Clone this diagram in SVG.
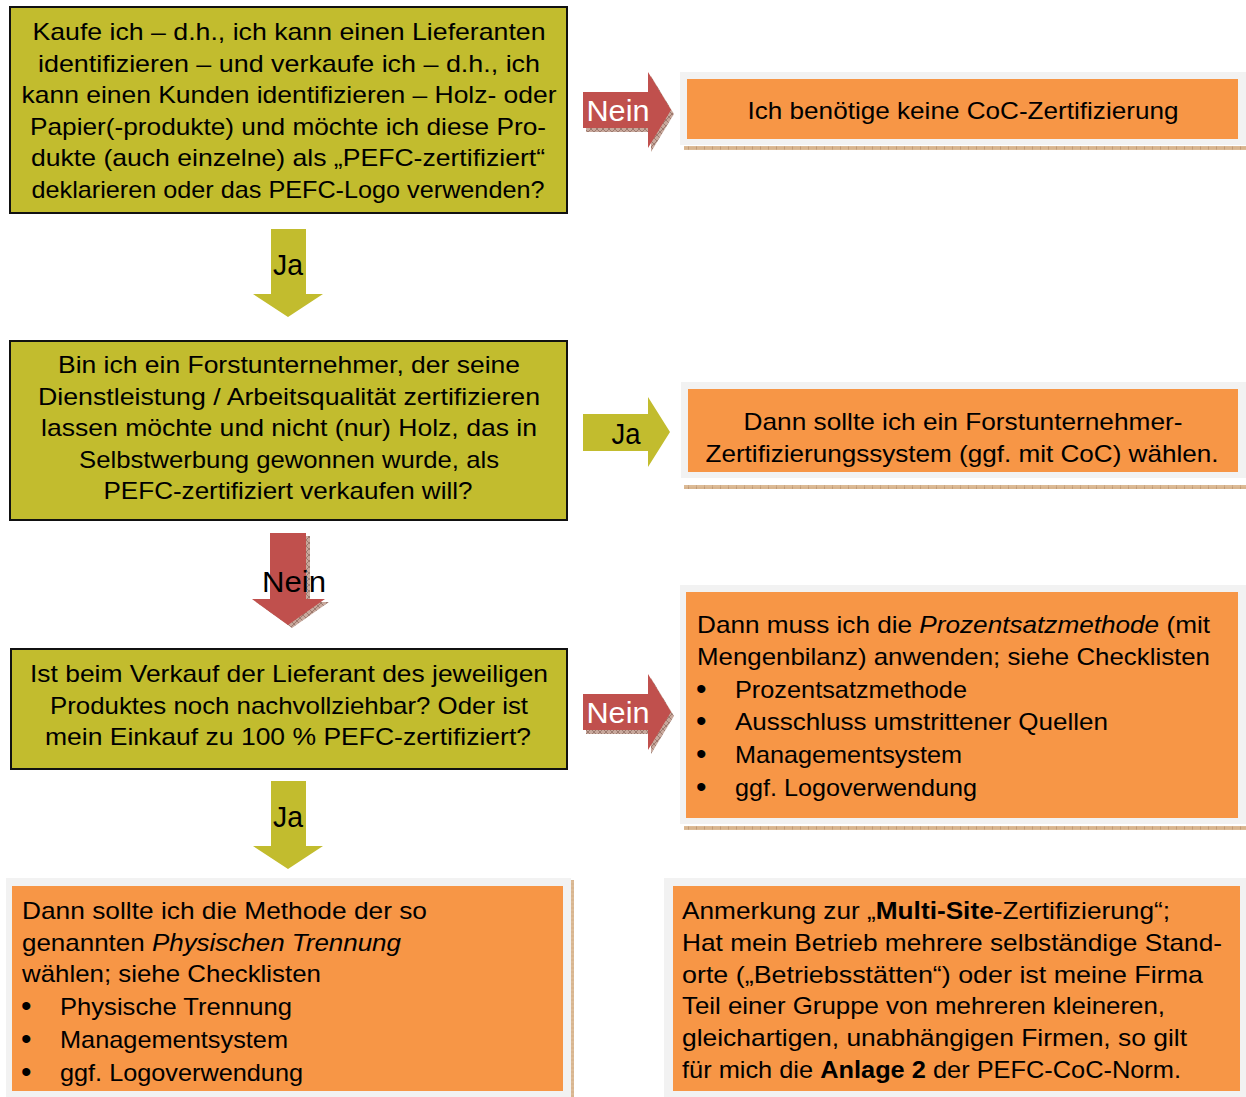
<svg xmlns="http://www.w3.org/2000/svg" width="1246" height="1097" viewBox="0 0 1246 1097">
<defs>
<pattern id="hatch" width="6" height="6" patternUnits="userSpaceOnUse"><rect width="6" height="6" fill="#c8a89c"/><path d="M0 0L6 6M6 0L0 6" stroke="#7d5a50" stroke-width="0.6"/></pattern>
<pattern id="strip" width="8" height="8" patternUnits="userSpaceOnUse"><rect width="8" height="8" fill="#d8b58f"/><path d="M0 0V8" stroke="#a9805e" stroke-width="1"/><path d="M0 2H8M0 6H8" stroke="#e6caa8" stroke-width="0.6"/></pattern>
<style>
.q{fill:#c2bc2e;stroke:#111;stroke-width:2}
.panel{fill:#f2f2f2}
.o{fill:#f79646}
.t{font-family:"Liberation Sans",Arial,sans-serif;font-size:24px;fill:#000}
.b{font-family:"Liberation Sans",Arial,sans-serif;font-size:30px;fill:#000}
.c{text-anchor:middle}
.ja{fill:#c2bc2e}
.nein{fill:#c0504d}
.lbl{font-family:"Liberation Sans",Arial,sans-serif;font-size:29px;text-anchor:middle}
</style>
</defs>

<g id="connectors">
<g id="arrow-nein-1">
<polygon points="586,96 651,96 651,76 674,114 651,152 651,132 586,132" fill="url(#hatch)"/>
<polygon class="nein" points="583,92 648,92 648,72 671,110 648,148 648,128 583,128"/>
<text class="lbl" x="618" y="121" fill="#fff" textLength="63" lengthAdjust="spacingAndGlyphs">Nein</text>
</g>
<g id="arrow-ja-1">
<polygon class="ja" points="271,229 306,229 306,294 323,294 288,317 253,294 271,294"/>
<text class="lbl" x="288" y="275" fill="#000" font-size="31" textLength="30" lengthAdjust="spacingAndGlyphs">Ja</text>
</g>
<g id="arrow-ja-2">
<polygon class="ja" points="583,414 648,414 648,397 670,432 648,467 648,451 583,451"/>
<text class="lbl" x="626" y="444" fill="#000" font-size="31" textLength="29" lengthAdjust="spacingAndGlyphs">Ja</text>
</g>
<g id="arrow-nein-2">
<polygon points="274,536 310,536 310,602 329,602 292,628 256,602 274,602" fill="url(#hatch)"/>
<polygon class="nein" points="270,533 306,533 306,599 325,599 288,625 252,599 270,599"/>
<text class="lbl" x="294" y="592" fill="#000" textLength="64" lengthAdjust="spacingAndGlyphs">Nein</text>
</g>
<g id="arrow-ja-3">
<polygon class="ja" points="271,781 306,781 306,846 323,846 288,869 253,846 271,846"/>
<text class="lbl" x="288" y="827" fill="#000" font-size="31" textLength="30" lengthAdjust="spacingAndGlyphs">Ja</text>
</g>
<g id="arrow-nein-3">
<polygon points="586,698 651,698 651,678 674,716 651,754 651,734 586,734" fill="url(#hatch)"/>
<polygon class="nein" points="583,694 648,694 648,674 671,712 648,750 648,730 583,730"/>
<text class="lbl" x="618" y="723" fill="#fff" textLength="63" lengthAdjust="spacingAndGlyphs">Nein</text>
</g>
</g>

<g id="q1">
<rect class="q" x="10" y="7" width="557" height="206"/>
<text class="t c" x="289" y="40" textLength="513" lengthAdjust="spacingAndGlyphs">Kaufe ich – d.h., ich kann einen Lieferanten</text>
<text class="t c" x="289" y="72" textLength="502" lengthAdjust="spacingAndGlyphs">identifizieren – und verkaufe ich – d.h., ich</text>
<text class="t c" x="289" y="103" textLength="535" lengthAdjust="spacingAndGlyphs">kann einen Kunden identifizieren – Holz- oder</text>
<text class="t c" x="288" y="135" textLength="516" lengthAdjust="spacingAndGlyphs">Papier(-produkte) und möchte ich diese Pro-</text>
<text class="t c" x="288" y="166" textLength="514" lengthAdjust="spacingAndGlyphs">dukte (auch einzelne) als „PEFC-zertifiziert“</text>
<text class="t c" x="288" y="198" textLength="513" lengthAdjust="spacingAndGlyphs">deklarieren oder das PEFC-Logo verwenden?</text>
</g>

<g id="q2">
<rect class="q" x="10" y="341" width="557" height="179"/>
<text class="t c" x="289" y="373" textLength="462" lengthAdjust="spacingAndGlyphs">Bin ich ein Forstunternehmer, der seine</text>
<text class="t c" x="289" y="405" textLength="502" lengthAdjust="spacingAndGlyphs">Dienstleistung / Arbeitsqualität zertifizieren</text>
<text class="t c" x="289" y="436" textLength="496" lengthAdjust="spacingAndGlyphs">lassen möchte und nicht (nur) Holz, das in</text>
<text class="t c" x="289" y="468" textLength="420" lengthAdjust="spacingAndGlyphs">Selbstwerbung gewonnen wurde, als</text>
<text class="t c" x="288" y="499" textLength="369" lengthAdjust="spacingAndGlyphs">PEFC-zertifiziert verkaufen will?</text>
</g>

<g id="q3">
<rect class="q" x="11" y="649" width="556" height="120"/>
<text class="t c" x="289" y="682" textLength="518" lengthAdjust="spacingAndGlyphs">Ist beim Verkauf der Lieferant des jeweiligen</text>
<text class="t c" x="289" y="714" textLength="478" lengthAdjust="spacingAndGlyphs">Produktes noch nachvollziehbar? Oder ist</text>
<text class="t c" x="288" y="745" textLength="486" lengthAdjust="spacingAndGlyphs">mein Einkauf zu 100 % PEFC-zertifiziert?</text>
</g>

<g id="r1">
<rect class="panel" x="680" y="72" width="566" height="73"/>
<rect x="684" y="146" width="562" height="4" fill="url(#strip)"/>
<rect class="o" x="687" y="79" width="551" height="60"/>
<text class="t c" x="963" y="119" textLength="431" lengthAdjust="spacingAndGlyphs">Ich benötige keine CoC-Zertifizierung</text>
</g>

<g id="r2">
<rect class="panel" x="681" y="382" width="565" height="96"/>
<rect x="684" y="485" width="562" height="4" fill="url(#strip)"/>
<rect class="o" x="688" y="389" width="550" height="83"/>
<text class="t c" x="963" y="430" textLength="439" lengthAdjust="spacingAndGlyphs">Dann sollte ich ein Forstunternehmer-</text>
<text class="t c" x="962" y="462" textLength="513" lengthAdjust="spacingAndGlyphs">Zertifizierungssystem (ggf. mit CoC) wählen.</text>
</g>

<g id="r3">
<rect class="panel" x="680" y="585" width="566" height="239"/>
<rect x="684" y="826" width="562" height="4" fill="url(#strip)"/>
<rect class="o" x="686" y="592" width="552" height="226"/>
<text class="t" x="697" y="633" textLength="513" lengthAdjust="spacingAndGlyphs">Dann muss ich die <tspan font-style="italic">Prozentsatzmethode</tspan> (mit</text>
<text class="t" x="697" y="665" textLength="513" lengthAdjust="spacingAndGlyphs">Mengenbilanz) anwenden; siehe Checklisten</text>
<text class="b" x="696" y="699">•</text>
<text class="t" x="735" y="698" textLength="232" lengthAdjust="spacingAndGlyphs">Prozentsatzmethode</text>
<text class="b" x="696" y="731">•</text>
<text class="t" x="735" y="730" textLength="373" lengthAdjust="spacingAndGlyphs">Ausschluss umstrittener Quellen</text>
<text class="b" x="696" y="764">•</text>
<text class="t" x="735" y="763" textLength="227" lengthAdjust="spacingAndGlyphs">Managementsystem</text>
<text class="b" x="696" y="797">•</text>
<text class="t" x="735" y="796" textLength="242" lengthAdjust="spacingAndGlyphs">ggf. Logoverwendung</text>
</g>

<g id="r4">
<rect class="panel" x="6" y="878" width="565" height="219"/>
<rect x="571" y="880" width="3" height="217" fill="url(#strip)"/>
<rect class="o" x="12" y="886" width="551" height="205"/>
<text class="t" x="22" y="919" textLength="405" lengthAdjust="spacingAndGlyphs">Dann sollte ich die Methode der so</text>
<text class="t" x="22" y="951" textLength="379" lengthAdjust="spacingAndGlyphs">genannten <tspan font-style="italic">Physischen Trennung</tspan></text>
<text class="t" x="22" y="982" textLength="299" lengthAdjust="spacingAndGlyphs">wählen; siehe Checklisten</text>
<text class="b" x="21" y="1016">•</text>
<text class="t" x="60" y="1015" textLength="232" lengthAdjust="spacingAndGlyphs">Physische Trennung</text>
<text class="b" x="21" y="1049">•</text>
<text class="t" x="60" y="1048" textLength="228" lengthAdjust="spacingAndGlyphs">Managementsystem</text>
<text class="b" x="21" y="1082">•</text>
<text class="t" x="60" y="1081" textLength="243" lengthAdjust="spacingAndGlyphs">ggf. Logoverwendung</text>
</g>

<g id="r5">
<rect class="panel" x="664" y="878" width="582" height="219"/>
<rect class="o" x="673" y="886" width="567" height="205"/>
<text class="t" x="682" y="919" textLength="488" lengthAdjust="spacingAndGlyphs">Anmerkung zur „<tspan font-weight="bold">Multi-Site</tspan>-Zertifizierung“;</text>
<text class="t" x="682" y="951" textLength="540" lengthAdjust="spacingAndGlyphs">Hat mein Betrieb mehrere selbständige Stand-</text>
<text class="t" x="682" y="983" textLength="521" lengthAdjust="spacingAndGlyphs">orte („Betriebsstätten“) oder ist meine Firma</text>
<text class="t" x="682" y="1014" textLength="483" lengthAdjust="spacingAndGlyphs">Teil einer Gruppe von mehreren kleineren,</text>
<text class="t" x="682" y="1046" textLength="505" lengthAdjust="spacingAndGlyphs">gleichartigen, unabhängigen Firmen, so gilt</text>
<text class="t" x="682" y="1078" textLength="499" lengthAdjust="spacingAndGlyphs">für mich die <tspan font-weight="bold">Anlage 2</tspan> der PEFC-CoC-Norm.</text>
</g>
</svg>
